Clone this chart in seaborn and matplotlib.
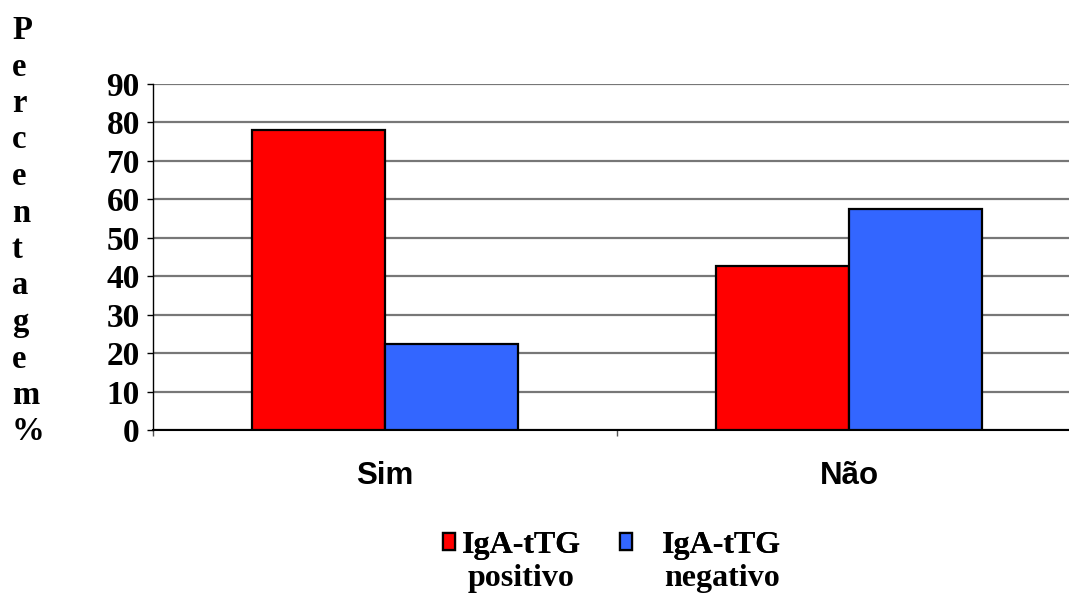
import matplotlib
matplotlib.use("Agg")
import matplotlib.pyplot as plt
import seaborn as sns
import pandas as pd
from matplotlib.ticker import FixedLocator

# Data
grupos = ["Sim", "Não"]
series = ["IgA-tTG positivo", "IgA-tTG negativo"]
positivo = [78.0, 42.7]
negativo = [22.3, 57.4]
cores = ["#FF0000", "#3366FF"]
y_ticks = [0, 10, 20, 30, 40, 50, 60, 70, 80, 90]
y_label = "Percentagem%"
legenda_l1 = ["IgA-tTG", "IgA-tTG"]
legenda_l2 = ["positivo", "negativo"]

df = pd.DataFrame({
    "grupo": grupos * 2,
    "serie": [series[0]] * len(grupos) + [series[1]] * len(grupos),
    "pct": positivo + negativo,
})

sns.set_theme(style="white")
plt.rcParams.update({
    "text.color": "black",
    "xtick.color": "black",
    "ytick.color": "black",
    "xtick.labelcolor": "black",
    "ytick.labelcolor": "black",
})
serif = ["Liberation Serif", "DejaVu Serif"]
sans = ["Liberation Sans", "DejaVu Sans"]

W, H = 1069, 595
fig = plt.figure(figsize=(W / 100, H / 100), dpi=100)
fig.patch.set_facecolor("white")
ax = fig.add_axes([153 / W, 165 / H, (1081 - 153) / W, 346 / H])

sns.barplot(data=df, x="grupo", y="pct", hue="serie", order=grupos,
            hue_order=series, palette=cores, saturation=1, width=0.572,
            edgecolor="black", linewidth=1.6, ax=ax, zorder=3)

handles, _ = ax.get_legend_handles_labels()
if ax.get_legend() is not None:
    ax.get_legend().remove()

ax.set_xlim(-0.5, 1.5)
ax.set_ylim(0, 90)
ax.set_yticks(y_ticks)
ax.set_xlabel("")
ax.set_ylabel("")

# gridlines and spines
ax.yaxis.grid(True, color="#777777", linewidth=1.6, zorder=0)
ax.xaxis.grid(False)
ax.set_axisbelow(True)
for s in ["top", "right"]:
    ax.spines[s].set_visible(False)
ax.spines["left"].set_color("black")
ax.spines["left"].set_linewidth(1.0)
ax.spines["bottom"].set_color("black")
ax.spines["bottom"].set_linewidth(1.5)

ax.tick_params(axis="y", which="major", direction="out", length=4.5,
               width=1, color="black", labelcolor="black", left=True, pad=5)
for lab in ax.get_yticklabels():
    lab.set_fontfamily(serif)
    lab.set_fontweight("bold")
    lab.set_fontsize(24)

ax.xaxis.set_minor_locator(FixedLocator([-0.5, 0.5, 1.5]))
ax.tick_params(axis="x", which="minor", direction="out", length=4.5,
               width=1, color="#555555", bottom=True)
ax.tick_params(axis="x", which="major", length=0, pad=22, labelcolor="black")
for lab in ax.get_xticklabels():
    lab.set_fontfamily(sans)
    lab.set_fontweight("bold")
    lab.set_fontsize(22.5)

# stacked vertical axis title
y0 = 39
for i, ch in enumerate(y_label):
    fig.text(12 / W, 1 - (y0 + i * 36.5) / H, ch, ha="left", va="baseline",
             fontfamily=serif, fontweight="bold", fontsize=23.5, color="black")

# legend: two entries placed side by side
leg_font = {"family": serif, "weight": "bold", "size": 23}
pads = [0.21, 0.95]
xs = [443, 620]
legs = []
for h, l1, pad, x in zip(handles, legenda_l1, pads, xs):
    leg = fig.legend([h], [l1], loc="upper left",
                     bbox_to_anchor=(x / W, 1 - 531 / H),
                     frameon=False, borderpad=0, borderaxespad=0,
                     handlelength=0.37, handleheight=0.42,
                     handletextpad=pad, prop=leg_font, labelcolor="black")
    legs.append(leg)
    fig.add_artist(leg)

# second line of each legend label, centred under the first
fig.canvas.draw()
renderer = fig.canvas.get_renderer()
for leg, l2 in zip(legs, legenda_l2):
    t = leg.get_texts()[0]
    bb = t.get_window_extent(renderer)
    cx = (bb.x0 + bb.x1) / 2
    fig.text(cx / W, (bb.y0 - 26) / H, l2, ha="center", va="baseline",
             fontfamily=serif, fontweight="bold", fontsize=23, color="black")

fig.savefig("out.png", dpi=100, facecolor="white")
